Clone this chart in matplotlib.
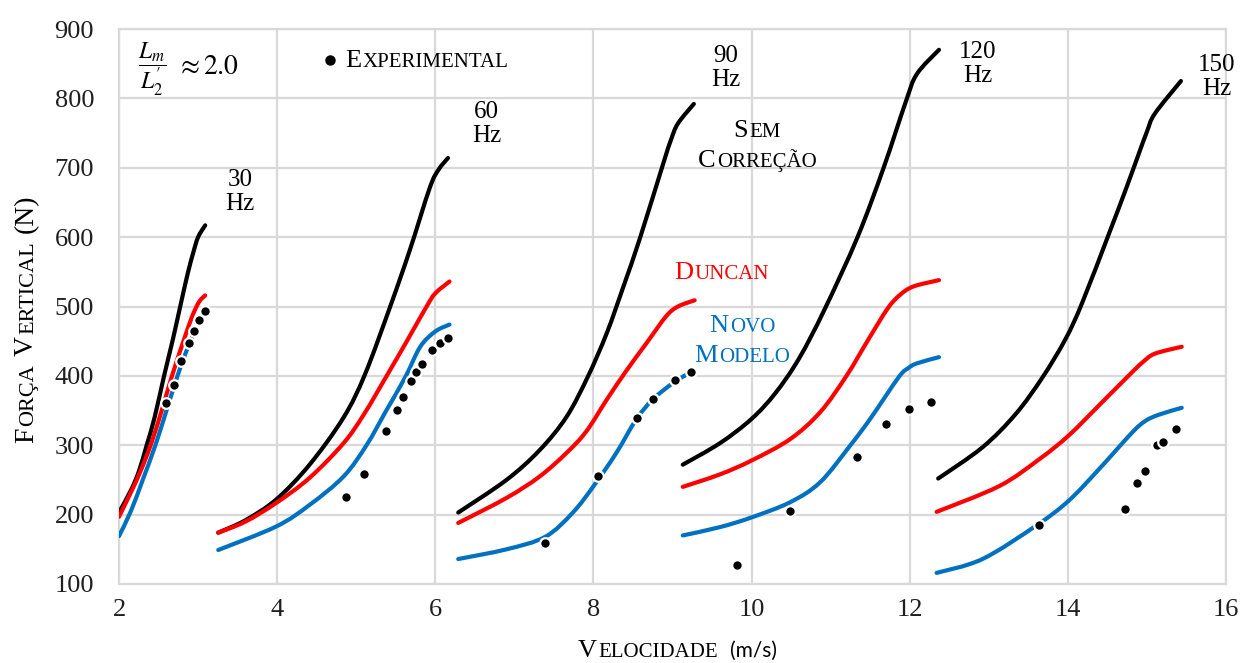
import matplotlib
matplotlib.use('Agg')
import matplotlib.pyplot as plt
from matplotlib.path import Path
from matplotlib.patches import PathPatch
from matplotlib.lines import Line2D

plt.rcParams['mathtext.fontset'] = 'stix'
SERIF = 'Liberation Serif'

# velocity (m/s) / vertical force (N), one list per frequency: 30, 60, 90, 120, 150 Hz
freqs = ['30', '60', '90', '120', '150']

sem_v = [[2.0, 2.15, 2.25, 2.35, 2.45, 2.57, 2.68, 2.78, 2.87, 2.94, 3.0, 3.09],
         [3.255, 3.6, 3.99, 4.41, 4.84, 5.11, 5.43, 5.68, 5.93, 6.04, 6.16],
         [6.29, 6.9, 7.32, 7.66, 7.93, 8.17, 8.38, 8.59, 8.88, 8.98, 9.07, 9.27],
         [9.13, 9.6, 10.0, 10.3, 10.6, 10.92, 11.34, 11.67, 11.95, 12.09, 12.37],
         [12.36, 12.92, 13.34, 13.68, 13.97, 14.18, 14.52, 14.73, 14.89, 15.0, 15.10, 15.43]]
sem_f = [[203, 235, 262, 300, 340, 400, 452, 503, 548, 578, 600, 617],
         [174, 192, 222, 272, 340, 402, 500, 582, 671, 697, 714],
         [203, 250, 293, 341, 399, 462, 529, 599, 705, 740, 764, 792],
         [272, 303, 338, 375, 425, 495, 600, 700, 795, 835, 870],
         [252, 297, 345, 398, 453, 505, 605, 668, 718, 752, 778, 825]]

dun_v = [[2.0, 2.15, 2.27, 2.4, 2.54, 2.67, 2.8, 2.9, 2.96, 3.02, 3.09],
         [3.255, 3.6, 3.99, 4.41, 4.84, 5.1, 5.38, 5.64, 5.89, 6.0, 6.18],
         [6.29, 6.9, 7.32, 7.66, 7.91, 8.17, 8.42, 8.67, 8.92, 9.07, 9.28],
         [9.13, 9.6, 10.0, 10.49, 10.87, 11.2, 11.48, 11.72, 11.88, 12.05, 12.37],
         [12.34, 13.13, 13.64, 14.01, 14.39, 14.81, 14.95, 15.1, 15.44]]
dun_f = [[197, 232, 262, 300, 350, 400, 445, 478, 495, 508, 516],
         [174, 190, 217, 253, 303, 345, 399, 450, 500, 519, 536],
         [188, 224, 255, 289, 320, 366, 408, 447, 486, 500, 509],
         [240, 258, 278, 309, 348, 400, 453, 497, 517, 529, 538],
         [204, 241, 280, 314, 357, 405, 420, 432, 442]]

novo_v = [[2.0, 2.15, 2.3, 2.46, 2.6, 2.74, 2.85, 2.95, 3.02, 3.09],
          [3.255, 3.99, 4.41, 4.84, 5.13, 5.38, 5.62, 5.81, 6.0, 6.18],
          [6.29, 6.9, 7.39, 7.74, 8.02, 8.29, 8.54, 8.75, 9.01, 9.24],
          [9.13, 9.6, 10.0, 10.49, 10.87, 11.25, 11.5, 11.86, 11.98, 12.09, 12.37],
          [12.34, 12.92, 13.61, 14.01, 14.39, 14.81, 14.98, 15.15, 15.44]]
novo_f = [[169, 205, 250, 300, 350, 400, 435, 462, 478, 490],
          [149, 183, 214, 255, 300, 350, 398, 442, 464, 474],
          [136, 150, 168, 203, 244, 289, 337, 366, 390, 406],
          [170, 182, 196, 218, 247, 300, 338, 398, 411, 418, 427],
          [116, 136, 185, 220, 265, 318, 335, 344, 354]]

exp_v = [[2.60, 2.695, 2.79, 2.885, 2.95, 3.015, 3.09],
         [4.87, 5.10, 5.38, 5.51, 5.59, 5.69, 5.76, 5.83, 5.96, 6.06, 6.16],
         [7.385, 8.06, 8.545, 8.75, 9.03, 9.23],
         [9.81, 10.48, 11.33, 11.70, 11.99, 12.27],
         [13.63, 14.72, 14.87, 14.97, 15.13, 15.20, 15.37]]
exp_f = [[361, 387, 422, 448, 465, 481, 494],
         [225, 258, 320, 351, 369, 393, 406, 417, 437, 447, 454],
         [159, 256, 339, 367, 394, 406],
         [128, 205, 283, 331, 352, 362],
         [185, 208, 246, 263, 300, 305, 324]]

# where the "NN Hz" labels sit
hz_v = [3.53, 6.65, 9.67, 12.86, 15.88]
hz_f = [665, 763, 844, 850, 831]

W, H = 1244, 663
fig = plt.figure(figsize=(W / 100, H / 100), dpi=100)
ax = fig.add_axes([119 / W, (H - 584) / H, (1226 - 119) / W, (584 - 29) / H])


def smooth_line(xs, ys, color):
    # smoothed line (like a spreadsheet "smooth line") through the read points
    n = len(xs)
    verts = [(xs[0], ys[0])]
    codes = [Path.MOVETO]
    for i in range(n - 1):
        x0, y0 = xs[max(i - 1, 0)], ys[max(i - 1, 0)]
        x1, y1 = xs[i], ys[i]
        x2, y2 = xs[i + 1], ys[i + 1]
        x3, y3 = xs[min(i + 2, n - 1)], ys[min(i + 2, n - 1)]
        verts += [(x1 + (x2 - x0) / 6, y1 + (y2 - y0) / 6),
                  (x2 - (x3 - x1) / 6, y2 - (y3 - y1) / 6),
                  (x2, y2)]
        codes += [Path.CURVE4] * 3
    ax.add_patch(PathPatch(Path(verts, codes), fill=False, edgecolor=color, lw=3,
                           capstyle='round', joinstyle='round', zorder=3))


for i in range(len(freqs)):
    smooth_line(sem_v[i], sem_f[i], 'black')
    smooth_line(dun_v[i], dun_f[i], '#ff0000')
    smooth_line(novo_v[i], novo_f[i], '#0070c0')
    ax.scatter(exp_v[i], exp_f[i], s=58, color='black', edgecolors='white',
               linewidths=1.6, zorder=4)
    ax.text(hz_v[i], hz_f[i], freqs[i] + '\nHz', fontsize=18, family=SERIF,
            ha='center', va='center', linespacing=1.1, zorder=5)

ax.set_xlim(2, 16)
ax.set_ylim(100, 900)
ax.set_xticks(range(2, 17, 2))
ax.set_yticks(range(100, 901, 100))
ax.grid(True, color='#d9d9d9', lw=1.6)
ax.set_axisbelow(True)
for sp in ax.spines.values():
    sp.set_color('#d9d9d9')
    sp.set_linewidth(1.6)
ax.tick_params(length=0, labelsize=19, colors='#1f1f1f')
ax.tick_params(axis='x', pad=11)
ax.tick_params(axis='y', pad=18)
for lab in ax.get_xticklabels() + ax.get_yticklabels():
    lab.set_family(SERIF)

renderer = fig.canvas.get_renderer()


def smallcaps(px, py, runs, color='black', rot=0, ha='center'):
    # px, py in image pixels (from the top left), py on the baseline
    items = []
    for run in runs:
        if run[0] is None:
            items.append((None, run[1]))
            continue
        fam = run[2] if len(run) > 2 else SERIF
        t = fig.text(0, 0, run[0], fontsize=run[1], color=color, family=fam,
                     rotation=rot, rotation_mode='anchor', ha='left', va='baseline')
        bb = t.get_window_extent(renderer)
        items.append((t, (bb.width if rot == 0 else bb.height) + 1.5))
    pos = -sum(l for _, l in items) / 2 if ha == 'center' else 0
    for t, l in items:
        if t is not None:
            if rot == 0:
                t.set_position(((px + pos) / W, (H - py) / H))
            else:
                t.set_position((px / W, (H - py + pos) / H))
        pos += l


BIG, SMALL = 19, 15
smallcaps(758, 137, [('S', BIG), ('EM', SMALL)])
smallcaps(758, 167, [('C', BIG), ('ORREÇÃO', SMALL)])
smallcaps(722, 279, [('D', BIG), ('UNCAN', SMALL)], color='#ff0000')
smallcaps(743, 332, [('N', BIG), ('OVO', SMALL)], color='#0070c0')
smallcaps(743, 362, [('M', BIG), ('ODELO', SMALL)], color='#0070c0')
smallcaps(345, 67, [('E', BIG), ('XPERIMENTAL', SMALL)], ha='left')
fig.add_artist(Line2D([330 / W], [(H - 60) / H], marker='o', ms=6.5, color='black',
                      transform=fig.transFigure))
smallcaps(578, 657, [('V', BIG), ('ELOCIDADE', SMALL), (None, 10),
                     ('(m/s)', 15, 'Lato')], ha='left')
smallcaps(33, 443, [('F', 20), ('ORÇA', 16), (None, 7), ('V', 20), ('ERTICAL', 16),
                    (None, 7), ('(N)', 20)], rot=90, ha='left')

fig.text(152 / W, (H - 69) / H, r'$\dfrac{L_m}{L_{2}^{\prime}}$',
         fontsize=17, ha='center', va='center')
fig.text(176 / W, (H - 66) / H, r'$\approx 2.0$', fontsize=20, ha='left', va='center')

fig.savefig('out.png', dpi=100)
